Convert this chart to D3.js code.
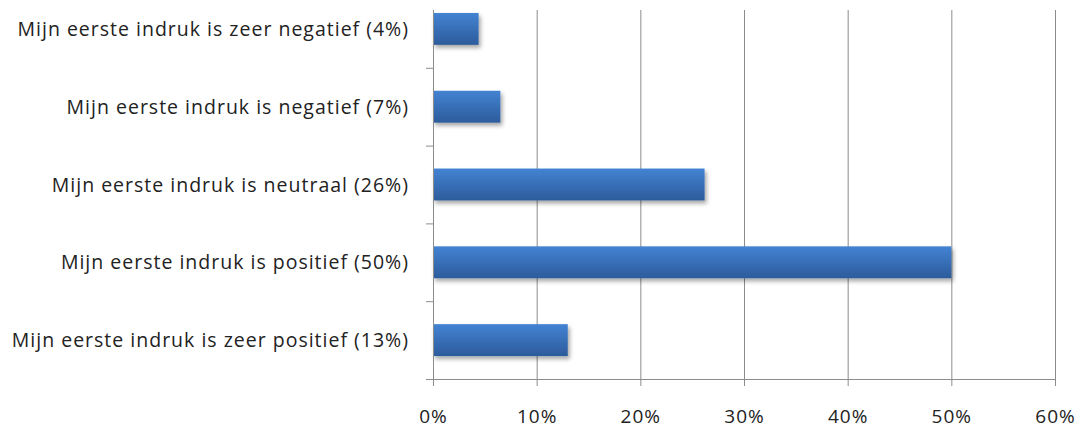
<!DOCTYPE html>
<html>
<head>
<meta charset="utf-8">
<script src="https://cdn.jsdelivr.net/npm/d3@7"></script>
<style>
  body { margin: 0; background: #fff; }
  svg text { font-family: "Open Sans", sans-serif; fill: #222; font-variant-ligatures: none; }
</style>
</head>
<body>
<div id="chart"></div>
<script>
const categories = [
    "Mijn eerste indruk is zeer negatief (4%)",
    "Mijn eerste indruk is negatief (7%)",
    "Mijn eerste indruk is neutraal (26%)",
    "Mijn eerste indruk is positief (50%)",
    "Mijn eerste indruk is zeer positief (13%)"
]
const values = [4.4, 6.5, 26.2, 50, 13]
const xTicks = [0, 10, 20, 30, 40, 50, 60]

const width = 1080
const height = 428
const left = 433, right = 1055, bottom = 379, gridTop = 10
const bandStep = 77.8

let svg = d3.select("#chart").append("svg")
    .attr("width", width)
    .attr("height", height)

let defs = svg.append("defs")
let grad = defs.append("linearGradient")
    .attr("id", "barGrad")
    .attr("x1", 0).attr("y1", 0).attr("x2", 0).attr("y2", 1)
grad.append("stop").attr("offset", "0%").attr("stop-color", "#4383d3")
grad.append("stop").attr("offset", "100%").attr("stop-color", "#2c5b9b")

let shadow = defs.append("filter").attr("id", "shadow")
    .attr("x", "-10%").attr("y", "-20%").attr("width", "130%").attr("height", "160%")
shadow.append("feDropShadow")
    .attr("dx", 2).attr("dy", 3).attr("stdDeviation", 2.2)
    .attr("flood-color", "#000").attr("flood-opacity", 0.35)

let x = d3.scaleLinear().domain([0, 60]).range([left, right])
let y = d3.scaleBand()
    .domain(categories)
    .range([bottom - bandStep * categories.length, bottom])
    .paddingInner(0.59).paddingOuter(0.295)

// gridlines
svg.append("g")
    .selectAll("line")
    .data(xTicks.slice(1))
    .enter()
    .append("line")
    .attr("x1", d => x(d) + 0.5).attr("x2", d => x(d) + 0.5)
    .attr("y1", gridTop).attr("y2", bottom + 7)
    .style("stroke", "#8c8c8c")
    .style("stroke-width", 1)

// bars
svg.append("g")
    .selectAll("rect")
    .data(values)
    .enter()
    .append("rect")
    .attr("x", x(0))
    .attr("y", (d, i) => y(categories[i]))
    .attr("width", d => x(d) - x(0))
    .attr("height", y.bandwidth())
    .style("fill", "url(#barGrad)")
    .attr("filter", "url(#shadow)")

// y axis line and category ticks
svg.append("line")
    .attr("x1", left + 0.5).attr("x2", left + 0.5)
    .attr("y1", gridTop).attr("y2", bottom + 7)
    .style("stroke", "#8c8c8c")

let catBounds = d3.range(1, categories.length)
svg.append("g")
    .selectAll("line")
    .data(catBounds)
    .enter()
    .append("line")
    .attr("x1", left - 7).attr("x2", left)
    .attr("y1", d => bottom - bandStep * (categories.length - d) + 0.5)
    .attr("y2", d => bottom - bandStep * (categories.length - d) + 0.5)
    .style("stroke", "#8c8c8c")

// x axis line
svg.append("line")
    .attr("x1", left - 7).attr("x2", right + 0.5)
    .attr("y1", bottom + 0.5).attr("y2", bottom + 0.5)
    .style("stroke", "#8c8c8c")

// x tick labels
svg.append("g")
    .selectAll("text")
    .data(xTicks)
    .enter()
    .append("text")
    .attr("x", d => x(d) + 0.5)
    .attr("y", 423)
    .attr("text-anchor", "middle")
    .style("font-size", "19px")
    .style("letter-spacing", "1px")
    .text(d => d + "%")

// category labels
svg.append("g")
    .selectAll("text")
    .data(categories)
    .enter()
    .append("text")
    .attr("x", 409)
    .attr("y", d => y(d) + y.bandwidth() / 2 + 7)
    .attr("text-anchor", "end")
    .style("font-size", "19.5px")
    .style("letter-spacing", "1px")
    .text(d => d)
</script>
</body>
</html>
